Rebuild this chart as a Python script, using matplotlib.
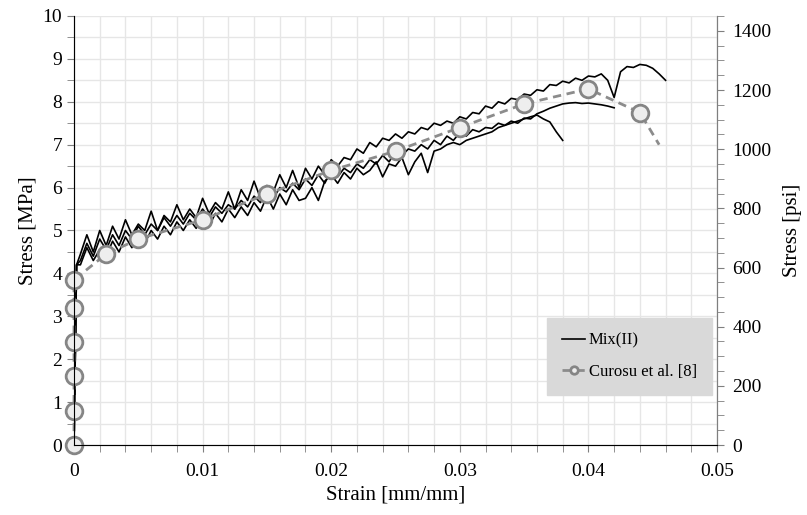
import numpy as np
import matplotlib.pyplot as plt
from matplotlib.ticker import MultipleLocator, FuncFormatter

plt.rcParams['font.family'] = ['Liberation Serif', 'DejaVu Serif']

# Mix(II) test curves, sampled every 0.0005 strain after the initial rise
step = 0.0005
mix_a = [4.45, 4.9, 4.5, 5.0, 4.65, 5.1, 4.8, 5.25, 4.9, 5.15, 5.0, 5.45, 5.0, 5.35, 5.2, 5.6,
         5.25, 5.5, 5.3, 5.75, 5.4, 5.65, 5.5, 5.9, 5.5, 5.95, 5.7, 6.15, 5.75, 6.05, 5.9, 6.3,
         6.0, 6.4, 6.0, 6.45, 6.2, 6.5, 6.3, 6.65, 6.5, 6.7, 6.65, 6.9, 6.8, 7.05, 6.95, 7.15,
         7.1, 7.25, 7.15, 7.3, 7.25, 7.4, 7.35, 7.5, 7.45, 7.55, 7.5, 7.65, 7.6, 7.75, 7.72, 7.9,
         7.85, 8.0, 7.95, 8.08, 8.05, 8.18, 8.15, 8.28, 8.25, 8.4, 8.38, 8.48, 8.44, 8.55, 8.5, 8.6,
         8.58, 8.65, 8.5, 8.1, 8.7, 8.82, 8.8, 8.87, 8.85, 8.78, 8.65, 8.5]
mix_b = [4.3, 4.7, 4.4, 4.8, 4.55, 4.9, 4.65, 5.0, 4.8, 5.1, 4.9, 5.15, 5.0, 5.3, 5.1, 5.35,
         5.15, 5.4, 5.25, 5.5, 5.3, 5.55, 5.4, 5.6, 5.5, 5.7, 5.55, 5.8, 5.65, 5.95, 5.75, 6.0,
         5.9, 6.1, 5.95, 6.2, 6.05, 6.3, 6.1, 6.4, 6.25, 6.45, 6.35, 6.55, 6.45, 6.65, 6.55, 6.75,
         6.6, 6.85, 6.75, 6.9, 6.85, 7.0, 6.9, 7.1, 7.0, 7.2, 7.1, 7.28, 7.2, 7.35, 7.3, 7.4,
         7.38, 7.5, 7.45, 7.55, 7.5, 7.62, 7.6, 7.72, 7.78, 7.85, 7.9, 7.95, 7.97, 7.98, 7.96, 7.97,
         7.95, 7.93, 7.9, 7.86]
mix_c = [4.2, 4.6, 4.3, 4.55, 4.4, 4.75, 4.5, 4.85, 4.6, 4.95, 4.7, 5.0, 4.8, 5.1, 4.9, 5.2,
         5.0, 5.25, 5.05, 5.35, 5.1, 5.4, 5.2, 5.5, 5.3, 5.55, 5.35, 5.65, 5.45, 5.8, 5.5, 5.85,
         5.6, 5.95, 5.7, 5.75, 6.0, 5.7, 6.15, 6.3, 6.1, 6.35, 6.2, 6.45, 6.3, 6.4, 6.6, 6.25,
         6.55, 6.5, 6.7, 6.3, 6.6, 6.8, 6.35, 6.85, 6.9, 7.0, 7.05, 7.0, 7.1, 7.15, 7.2, 7.25,
         7.3, 7.4, 7.45, 7.5, 7.55, 7.6, 7.65, 7.69, 7.6, 7.53, 7.3, 7.1]

# Curosu et al. [8]
curosu_strain = [0, 0, 0, 0, 0, 0, 0.0025, 0.005, 0.01, 0.015, 0.02, 0.025, 0.03, 0.035, 0.04, 0.044, 0.0455]
curosu_stress = [0, 0.8, 1.6, 2.4, 3.2, 3.85, 4.45, 4.8, 5.25, 5.85, 6.4, 6.85, 7.4, 7.95, 8.3, 7.75, 7.0]

MPA_TO_PSI = 145.038

fig = plt.figure(figsize=(8.07, 5.15), dpi=100)
ax = fig.add_axes([0.0917, 0.1359, 0.7968, 0.8331])

for k, vals in enumerate([mix_a, mix_b, mix_c]):
    x = np.concatenate([[0, 0.0002], step * np.arange(1, len(vals) + 1)])
    y = np.concatenate([[0, 4.2], vals])
    ax.plot(x, y, color='black', lw=1.2, label='Mix(II)' if k == 0 else None, zorder=3)

ax.plot(curosu_strain, curosu_stress, color='#8c8c8c', lw=2, ls=(0, (3, 2)),
        marker='o', ms=12, mfc='#eeeeee', mec='#858585', mew=2, clip_on=False,
        markevery=list(range(len(curosu_strain) - 1)), label='Curosu et al. [8]', zorder=4)

ax.set_xlim(0, 0.05)
ax.set_ylim(0, 10)
ax.xaxis.set_major_locator(MultipleLocator(0.01))
ax.xaxis.set_minor_locator(MultipleLocator(0.002))
ax.yaxis.set_major_locator(MultipleLocator(1))
ax.yaxis.set_minor_locator(MultipleLocator(0.5))
ax.xaxis.set_major_formatter(FuncFormatter(lambda v, p: '0' if abs(v) < 1e-9 else f'{v:.2f}'))
ax.grid(True, which='both', color='#e6e6e6', lw=1)
ax.set_axisbelow(True)

ax.spines['top'].set_visible(False)
for s in ['left', 'bottom', 'right']:
    ax.spines[s].set_color('#7f7f7f')
ax.tick_params(which='both', direction='out', color='#7f7f7f', labelsize=14, length=5)
ax.tick_params(axis='x', pad=8)

ax.set_xlabel('Strain [mm/mm]', fontsize=15)
ax.set_ylabel('Stress [MPa]', fontsize=15, labelpad=4)

ax2 = ax.twinx()
ax2.set_ylim(0, 10 * MPA_TO_PSI)
ax2.yaxis.set_major_locator(MultipleLocator(200))
ax2.yaxis.set_minor_locator(MultipleLocator(50))
ax2.tick_params(which='both', direction='out', color='#7f7f7f', labelsize=14, length=5, pad=6)
ax2.spines['top'].set_visible(False)
ax2.spines['right'].set_color('#7f7f7f')
ax2.set_ylabel('Stress [psi]', fontsize=15, labelpad=8)

leg = ax.legend(loc='lower right', bbox_to_anchor=(0.992, 0.117), borderaxespad=0,
                handlelength=1.4, fontsize=12, frameon=True, fancybox=False,
                facecolor='#d9d9d9', edgecolor='#d9d9d9', framealpha=1, borderpad=0.9,
                labelspacing=0.9, markerscale=0.45, handletextpad=0.2)
leg.set_zorder(10)

fig.savefig('out.png', dpi=100)
